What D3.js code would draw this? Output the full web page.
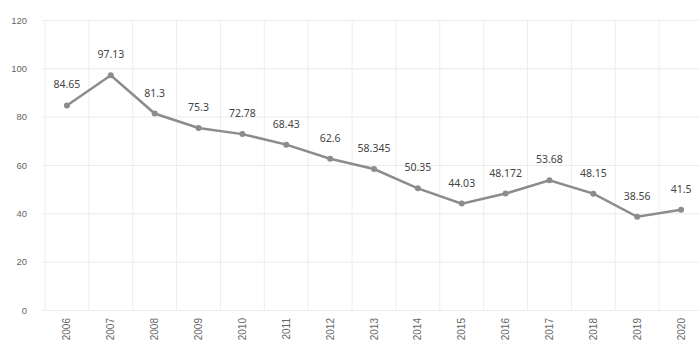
<!DOCTYPE html>
<html>
<head>
<meta charset="utf-8">
<script src="https://cdn.jsdelivr.net/npm/d3@7"></script>
<style>
  body { margin: 0; background: #fff; }
  svg { display: block; font-family: "Noto Sans", "Lato", sans-serif; }
</style>
</head>
<body>
<div id="chart"></div>
<script>
// chart values
const years = ["2006", "2007", "2008", "2009", "2010", "2011", "2012", "2013",
  "2014", "2015", "2016", "2017", "2018", "2019", "2020"];
const values = [84.65, 97.13, 81.3, 75.3, 72.78, 68.43, 62.6, 58.345,
  50.35, 44.03, 48.172, 53.68, 48.15, 38.56, 41.5];
const valueLabels = ["84.65", "97.13", "81.3", "75.3", "72.78", "68.43", "62.6", "58.345",
  "50.35", "44.03", "48.172", "53.68", "48.15", "38.56", "41.5"];
const yTicks = [0, 20, 40, 60, 80, 100, 120];

function draw() {
  const dimensions = {
    width: 699,
    height: 347,
    margin: { top: 20, right: -4, bottom: 37, left: 45 },
  };
  dimensions.innerWidth = dimensions.width - dimensions.margin.left - dimensions.margin.right;
  dimensions.innerHeight = dimensions.height - dimensions.margin.top - dimensions.margin.bottom;

  const svg = d3.select("#chart")
    .append("svg")
    .attr("width", dimensions.width)
    .attr("height", dimensions.height);

  const graph = svg.append("g")
    .attr("transform", `translate(${dimensions.margin.left}, ${dimensions.margin.top})`);

  // scales
  const xScale = d3.scaleBand()
    .domain(years)
    .range([0, dimensions.innerWidth]);

  const yScale = d3.scaleLinear()
    .domain([0, 120])
    .range([dimensions.innerHeight, 0]);

  // horizontal grid + y labels
  const yAxis = graph.append("g")
    .call(d3.axisLeft(yScale).tickValues(yTicks).tickSize(-dimensions.innerWidth - 3).tickPadding(18));
  yAxis.select(".domain").remove();
  yAxis.selectAll(".tick line")
    .attr("x1", -3)
    .attr("stroke", "#ebebeb");
  yAxis.selectAll(".tick text")
    .attr("fill", "#666")
    .style("font-size", "9.5px");

  // vertical grid at band edges
  graph.append("g")
    .selectAll("line")
    .data(years)
    .join("line")
    .attr("x1", (d) => xScale(d))
    .attr("x2", (d) => xScale(d))
    .attr("y1", 0)
    .attr("y2", dimensions.innerHeight)
    .attr("stroke", "#ededed");

  // x labels, rotated
  const xAxis = graph.append("g")
    .attr("transform", `translate(0, ${dimensions.innerHeight})`)
    .call(d3.axisBottom(xScale).tickSize(0));
  xAxis.select(".domain").remove();
  xAxis.selectAll(".tick text")
    .attr("transform", "rotate(-90)")
    .attr("text-anchor", "end")
    .attr("x", -8)
    .attr("y", 0)
    .attr("dy", "0.35em")
    .attr("fill", "#666")
    .style("font-size", "10px");

  const cx = (d, i) => xScale(years[i]) + xScale.bandwidth() / 2;

  // line
  const lineGenerator = d3.line()
    .x((d, i) => cx(d, i))
    .y((d) => yScale(d));

  graph.append("path")
    .datum(values)
    .attr("d", lineGenerator)
    .attr("fill", "none")
    .attr("stroke", "#8c8c8c")
    .attr("stroke-width", 2.5);

  // points
  graph.append("g")
    .selectAll("circle")
    .data(values)
    .join("circle")
    .attr("cx", cx)
    .attr("cy", (d) => yScale(d))
    .attr("r", 3)
    .attr("fill", "#8c8c8c");

  // value labels
  graph.append("g")
    .selectAll("text")
    .data(values)
    .join("text")
    .attr("x", cx)
    .attr("y", (d) => yScale(d) - 17)
    .attr("text-anchor", "middle")
    .attr("fill", "#444")
    .style("font-size", "10.5px")
    .text((d, i) => valueLabels[i]);
}

draw();
</script>
</body>
</html>
